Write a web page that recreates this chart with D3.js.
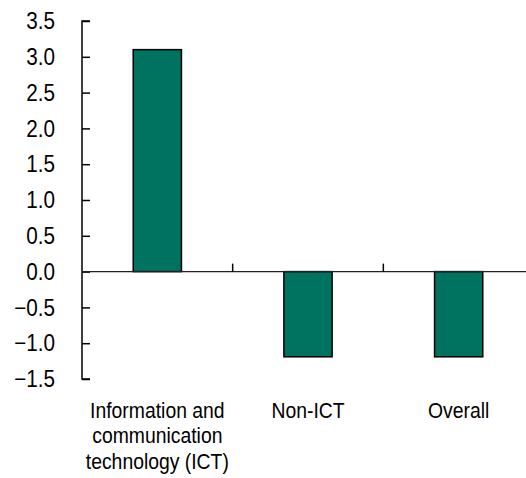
<!DOCTYPE html>
<html><head><meta charset="utf-8">
<script src="https://cdn.jsdelivr.net/npm/d3@7"></script>
<style>body{margin:0;background:#fff}svg{display:block}text{font-family:"Liberation Sans",Arial,sans-serif;fill:#000}</style>
</head><body><div id="chart"></div>
<script>
const categories = ["Information and communication technology (ICT)", "Non-ICT", "Overall"];
const categoryLines = [["Information and", "communication", "technology (ICT)"], ["Non-ICT"], ["Overall"]];
const values = [3.10, -1.19, -1.19];
const yTicks = [-1.5, -1.0, -0.5, 0.0, 0.5, 1.0, 1.5, 2.0, 2.5, 3.0, 3.5];

const W = 526, H = 478;
const svg = d3.select("#chart").append("svg").attr("width", W).attr("height", H);

const x = d3.scaleBand().domain(categories).range([82, 534]).paddingInner(0.68).paddingOuter(0.34);
const y = d3.scaleLinear().domain([-1.5, 3.5]).range([379, 21]);

// y axis
const yAxis = d3.axisRight(y).tickValues(yTicks).tickSize(8).tickFormat("");
const gy = svg.append("g").attr("transform", "translate(82,0)").call(yAxis);
gy.select(".domain").attr("stroke", "#000").attr("stroke-width", 1.5).attr("d", `M8,${y(-1.5)}H0V${y(3.5)}H8`);
gy.selectAll(".tick line").attr("stroke", "#000").attr("stroke-width", 1.5);
svg.append("g").selectAll("text").data(yTicks).join("text")
  .attr("transform", d => `translate(55,${y(d)}) scale(0.9,1)`)
  .attr("dy", "0.36em")
  .attr("text-anchor", "end").attr("font-size", 23)
  .text(d => d3.format(".1f")(d));

// bars
svg.append("g").selectAll("rect").data(values).join("rect")
  .attr("x", (d, i) => x(categories[i]))
  .attr("width", x.bandwidth())
  .attr("y", d => y(Math.max(0, d)))
  .attr("height", d => Math.abs(y(d) - y(0)))
  .attr("fill", "#007360").attr("stroke", "#000").attr("stroke-width", 1.5);

// zero line
svg.append("line").attr("x1", 82).attr("x2", W).attr("y1", y(0)).attr("y2", y(0))
  .attr("stroke", "#222").attr("stroke-width", 1.2);
// category separators
const step = x.step();
const seps = categories.slice(1).map(c => x(c) - x.paddingInner() * step / 2);
svg.append("g").selectAll("line").data(seps).join("line")
  .attr("x1", d => d).attr("x2", d => d).attr("y1", y(0) - 8).attr("y2", y(0))
  .attr("stroke", "#000").attr("stroke-width", 1.5);

// category labels
categories.forEach((c, i) => {
  const cx = x(c) + x.bandwidth() / 2;
  const t = svg.append("text").attr("text-anchor", "middle").attr("font-size", 22)
    .attr("transform", `translate(${cx},0) scale(0.88,1)`);
  categoryLines[i].forEach((ln, j) => {
    t.append("tspan").attr("x", 0).attr("y", 418 + j * 25.5).text(ln);
  });
});
</script></body></html>
